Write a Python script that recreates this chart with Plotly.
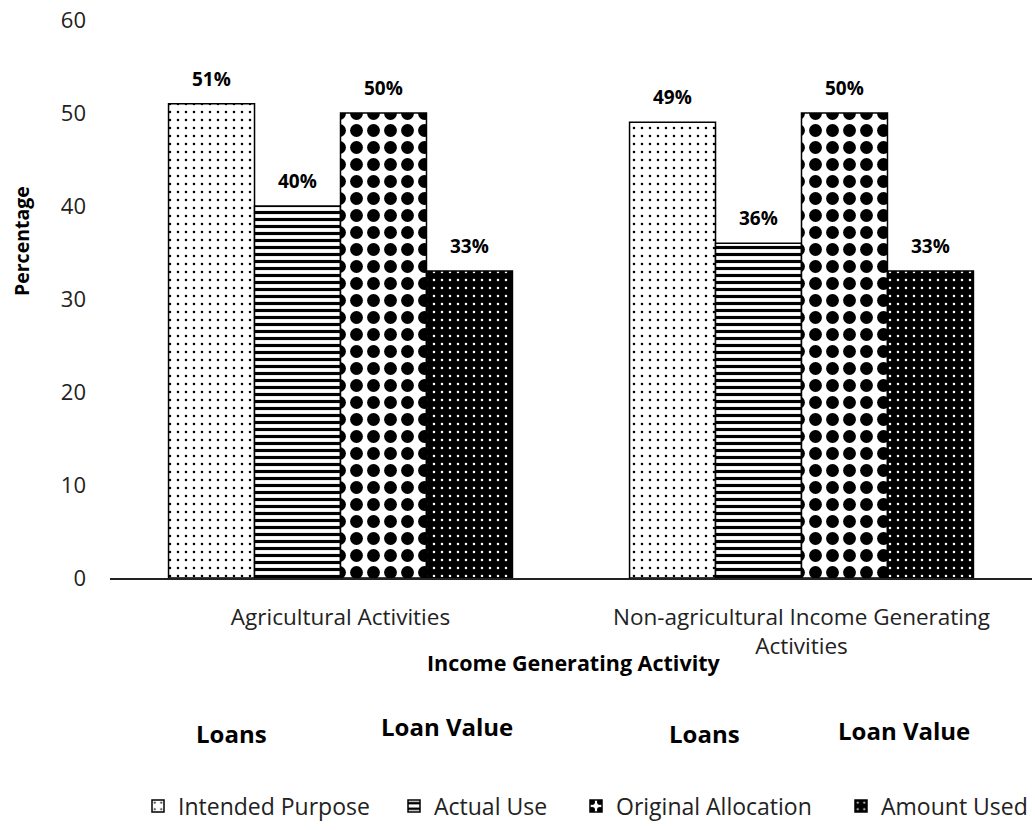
import plotly.graph_objects as go

categories = ["Agricultural Activities", "Non-agricultural Income Generating<br>Activities"]
series_names = ["Intended Purpose", "Actual Use", "Original Allocation", "Amount Used"]
intended = [51, 49]
actual = [40, 36]
original = [50, 50]
amount = [33, 33]
group_labels = ["Loans", "Loan Value", "Loans", "Loan Value"]
y_ticks = [0, 10, 20, 30, 40, 50, 60]

FONT = "'Open Sans', sans-serif"

patterns = [
    dict(shape=".", fgcolor="black", bgcolor="white", size=8, solidity=0.08, fgopacity=1),
    dict(shape="-", fgcolor="black", bgcolor="white", size=7, solidity=0.45, fgopacity=1),
    dict(shape=".", fgcolor="black", bgcolor="white", size=17, solidity=0.45, fgopacity=1),
    dict(shape=".", fgcolor="white", bgcolor="black", size=8, solidity=0.08, fgopacity=1),
]
colors = ["white", "white", "white", "black"]
values = [intended, actual, original, amount]
legend_ids = ["legend", "legend2", "legend3", "legend4"]
legend_x = [138, 394, 576, 841]

BARGAP = 0.254

fig = go.Figure()
for name, vals, pat, col, lg in zip(series_names, values, patterns, colors, legend_ids):
    fig.add_trace(go.Bar(
        name=name, x=categories, y=vals, legend=lg, showlegend=True,
        marker=dict(color=col, pattern=pat, line=dict(color="black", width=1.5)),
    ))

# data labels above bars
n = len(series_names)
bar_w = (1 - BARGAP) / n
annotations = []
for i, vals in enumerate(values):
    for j, v in enumerate(vals):
        xpos = j - (1 - BARGAP) / 2 + bar_w * (i + 0.5)
        annotations.append(dict(
            x=xpos, y=v, xref="x", yref="y", text=f"<b>{v}%</b>", showarrow=False,
            xanchor="center", yanchor="middle",
            yshift=25, font=dict(size=19, color="black", family=FONT)))

# sub-group labels
label_x = [0.1323, 0.3655, 0.6453, 0.861]
label_y = [-0.278, -0.267, -0.278, -0.274]
for t, lx, ly in zip(group_labels, label_x, label_y):
    annotations.append(dict(x=lx, y=ly, xref="paper", yref="paper", text=f"<b>{t}</b>",
                            showarrow=False, xanchor="center", yanchor="middle",
                            font=dict(size=24, color="black", family=FONT)))

annotations.append(dict(x=0.503, y=-0.152, xref="paper", yref="paper",
                        text="<b>Income Generating Activity</b>", showarrow=False,
                        xanchor="center", yanchor="middle",
                        font=dict(size=21.5, color="black", family=FONT)))
annotations.append(dict(x=-0.0954, y=0.604, xref="paper", yref="paper",
                        text="<b>Percentage</b>", showarrow=False, textangle=-90,
                        xanchor="center", yanchor="middle",
                        font=dict(size=19.5, color="black", family=FONT)))

legend_common = dict(orientation="h", xref="container", yref="container",
                     y=1 - 806 / 830, yanchor="middle", xanchor="left",
                     font=dict(size=23, color="#222", family=FONT), itemwidth=30,
                     bgcolor="rgba(0,0,0,0)")
legends = {}
for lg, lx in zip(legend_ids, legend_x):
    legends[lg] = dict(legend_common, x=lx / 1035)

fig.update_layout(
    width=1035, height=830,
    margin=dict(l=110, r=3, t=20, b=252),
    paper_bgcolor="white", plot_bgcolor="white",
    barmode="group", bargap=BARGAP, bargroupgap=0,
    showlegend=True,
    font=dict(family=FONT, size=22, color="black"),
    annotations=annotations,
    xaxis=dict(showline=True, linecolor="#222", linewidth=1.5, showgrid=False,
               ticks="", ticklabelstandoff=18, tickfont=dict(size=22.5, color="#222")),
    yaxis=dict(range=[0, 60], tickvals=y_ticks, showgrid=False, showline=False,
               zeroline=False, ticks="", ticklabelstandoff=23,
               tickfont=dict(size=22, color="#222")),
    **legends,
)

fig.write_html("out.html", config={"displayModeBar": False},
               post_script="document.body.style.margin='0px';")
